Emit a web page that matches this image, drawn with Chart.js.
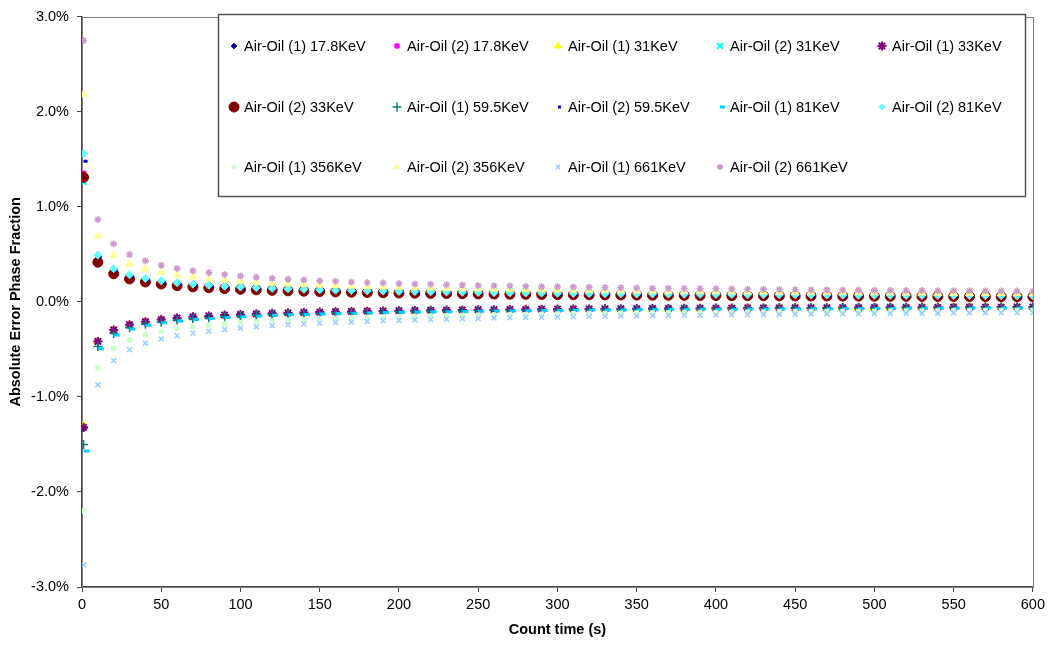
<!DOCTYPE html>
<html>
<head>
<meta charset="utf-8">
<script src="https://cdn.jsdelivr.net/npm/chart.js@4.4.0/dist/chart.umd.min.js"></script>
<style>
html,body{margin:0;padding:0;background:#fff;}
#wrap{width:1049px;height:648px;}
</style>
</head>
<body>
<div id="wrap"><canvas id="errChart" width="1049" height="648"></canvas></div>
<script>
// count times (s)
const countTimes = [1,10,20,30,40,50,60,70,80,90,100,110,120,130,140,150,160,170,180,190,200,
  210,220,230,240,250,260,270,280,290,300,310,320,330,340,350,360,370,380,390,400,
  410,420,430,440,450,460,470,480,490,500,510,520,530,540,550,560,570,580,590,600];

// absolute error phase fraction, in %
const oil1_178 = [-1.33,-0.417,-0.295,-0.241,-0.209,-0.187,-0.170,-0.158,-0.148,-0.139,-0.132,-0.126,-0.121,-0.116,-0.112,-0.108,-0.104,-0.101,-0.098,-0.096,-0.093,-0.091,-0.089,-0.087,-0.085,-0.083,-0.082,-0.080,-0.079,-0.078,-0.076,-0.075,-0.074,-0.073,-0.072,-0.071,-0.070,-0.069,-0.068,-0.067,-0.066,-0.065,-0.064,-0.064,-0.063,-0.062,-0.062,-0.061,-0.060,-0.060,-0.059,-0.058,-0.058,-0.057,-0.057,-0.056,-0.056,-0.055,-0.055,-0.054,-0.054];
const oil2_178 = [1.35,0.417,0.295,0.241,0.209,0.187,0.170,0.158,0.148,0.139,0.132,0.126,0.121,0.116,0.112,0.108,0.104,0.101,0.098,0.096,0.093,0.091,0.089,0.087,0.085,0.083,0.082,0.080,0.079,0.078,0.076,0.075,0.074,0.073,0.072,0.071,0.070,0.069,0.068,0.067,0.066,0.065,0.064,0.064,0.063,0.062,0.062,0.061,0.060,0.060,0.059,0.058,0.058,0.057,0.057,0.056,0.056,0.055,0.055,0.054,0.054];
const oil1_31 = [-1.30,-0.417,-0.295,-0.241,-0.209,-0.187,-0.170,-0.158,-0.148,-0.139,-0.132,-0.126,-0.121,-0.116,-0.112,-0.108,-0.104,-0.101,-0.098,-0.096,-0.093,-0.091,-0.089,-0.087,-0.085,-0.083,-0.082,-0.080,-0.079,-0.078,-0.076,-0.075,-0.074,-0.073,-0.072,-0.071,-0.070,-0.069,-0.068,-0.067,-0.066,-0.065,-0.064,-0.064,-0.063,-0.062,-0.062,-0.061,-0.060,-0.060,-0.059,-0.058,-0.058,-0.057,-0.057,-0.056,-0.056,-0.055,-0.055,-0.054,-0.054];
const oil2_31 = [1.26,0.417,0.295,0.241,0.209,0.187,0.170,0.158,0.148,0.139,0.132,0.126,0.121,0.116,0.112,0.108,0.104,0.101,0.098,0.096,0.093,0.091,0.089,0.087,0.085,0.083,0.082,0.080,0.079,0.078,0.076,0.075,0.074,0.073,0.072,0.071,0.070,0.069,0.068,0.067,0.066,0.065,0.064,0.064,0.063,0.062,0.062,0.061,0.060,0.060,0.059,0.058,0.058,0.057,0.057,0.056,0.056,0.055,0.055,0.054,0.054];
const oil1_33 = [-1.32,-0.417,-0.295,-0.241,-0.209,-0.187,-0.170,-0.158,-0.148,-0.139,-0.132,-0.126,-0.121,-0.116,-0.112,-0.108,-0.104,-0.101,-0.098,-0.096,-0.093,-0.091,-0.089,-0.087,-0.085,-0.083,-0.082,-0.080,-0.079,-0.078,-0.076,-0.075,-0.074,-0.073,-0.072,-0.071,-0.070,-0.069,-0.068,-0.067,-0.066,-0.065,-0.064,-0.064,-0.063,-0.062,-0.062,-0.061,-0.060,-0.060,-0.059,-0.058,-0.058,-0.057,-0.057,-0.056,-0.056,-0.055,-0.055,-0.054,-0.054];
const oil2_33 = [1.31,0.417,0.295,0.241,0.209,0.187,0.170,0.158,0.148,0.139,0.132,0.126,0.121,0.116,0.112,0.108,0.104,0.101,0.098,0.096,0.093,0.091,0.089,0.087,0.085,0.083,0.082,0.080,0.079,0.078,0.076,0.075,0.074,0.073,0.072,0.071,0.070,0.069,0.068,0.067,0.066,0.065,0.064,0.064,0.063,0.062,0.062,0.061,0.060,0.060,0.059,0.058,0.058,0.057,0.057,0.056,0.056,0.055,0.055,0.054,0.054];
const oil1_595 = [-1.50,-0.471,-0.333,-0.272,-0.236,-0.211,-0.192,-0.178,-0.167,-0.157,-0.149,-0.142,-0.136,-0.131,-0.126,-0.122,-0.118,-0.114,-0.111,-0.108,-0.105,-0.103,-0.100,-0.098,-0.096,-0.094,-0.092,-0.091,-0.089,-0.087,-0.086,-0.085,-0.083,-0.082,-0.081,-0.080,-0.079,-0.077,-0.076,-0.075,-0.075,-0.074,-0.073,-0.072,-0.071,-0.070,-0.069,-0.069,-0.068,-0.067,-0.067,-0.066,-0.065,-0.065,-0.064,-0.064,-0.063,-0.062,-0.062,-0.061,-0.061];
const oil2_595 = [1.48,0.471,0.333,0.272,0.236,0.211,0.192,0.178,0.167,0.157,0.149,0.142,0.136,0.131,0.126,0.122,0.118,0.114,0.111,0.108,0.105,0.103,0.100,0.098,0.096,0.094,0.092,0.091,0.089,0.087,0.086,0.085,0.083,0.082,0.081,0.080,0.079,0.077,0.076,0.075,0.075,0.074,0.073,0.072,0.071,0.070,0.069,0.069,0.068,0.067,0.067,0.066,0.065,0.065,0.064,0.064,0.063,0.062,0.062,0.061,0.061];
const oil1_81 = [-1.57,-0.493,-0.349,-0.285,-0.247,-0.221,-0.201,-0.186,-0.174,-0.164,-0.156,-0.149,-0.142,-0.137,-0.132,-0.127,-0.123,-0.120,-0.116,-0.113,-0.110,-0.108,-0.105,-0.103,-0.101,-0.099,-0.097,-0.095,-0.093,-0.092,-0.090,-0.089,-0.087,-0.086,-0.085,-0.083,-0.082,-0.081,-0.080,-0.079,-0.078,-0.077,-0.076,-0.075,-0.074,-0.074,-0.073,-0.072,-0.071,-0.070,-0.070,-0.069,-0.068,-0.068,-0.067,-0.067,-0.066,-0.065,-0.065,-0.064,-0.064];
const oil2_81 = [1.56,0.493,0.349,0.285,0.247,0.221,0.201,0.186,0.174,0.164,0.156,0.149,0.142,0.137,0.132,0.127,0.123,0.120,0.116,0.113,0.110,0.108,0.105,0.103,0.101,0.099,0.097,0.095,0.093,0.092,0.090,0.089,0.087,0.086,0.085,0.083,0.082,0.081,0.080,0.079,0.078,0.077,0.076,0.075,0.074,0.074,0.073,0.072,0.071,0.070,0.070,0.069,0.068,0.068,0.067,0.067,0.066,0.065,0.065,0.064,0.064];
const oil1_356 = [-2.20,-0.693,-0.490,-0.400,-0.346,-0.310,-0.283,-0.262,-0.245,-0.231,-0.219,-0.209,-0.200,-0.192,-0.185,-0.179,-0.173,-0.168,-0.163,-0.159,-0.155,-0.151,-0.148,-0.144,-0.141,-0.139,-0.136,-0.133,-0.131,-0.129,-0.126,-0.124,-0.122,-0.121,-0.119,-0.117,-0.115,-0.114,-0.112,-0.111,-0.110,-0.108,-0.107,-0.106,-0.104,-0.103,-0.102,-0.101,-0.100,-0.099,-0.098,-0.097,-0.096,-0.095,-0.094,-0.093,-0.093,-0.092,-0.091,-0.090,-0.089];
const oil2_356 = [2.18,0.693,0.490,0.400,0.346,0.310,0.283,0.262,0.245,0.231,0.219,0.209,0.200,0.192,0.185,0.179,0.173,0.168,0.163,0.159,0.155,0.151,0.148,0.144,0.141,0.139,0.136,0.133,0.131,0.129,0.126,0.124,0.122,0.121,0.119,0.117,0.115,0.114,0.112,0.111,0.110,0.108,0.107,0.106,0.104,0.103,0.102,0.101,0.100,0.099,0.098,0.097,0.096,0.095,0.094,0.093,0.093,0.092,0.091,0.090,0.089];
const oil1_661 = [-2.77,-0.873,-0.617,-0.504,-0.436,-0.390,-0.356,-0.330,-0.309,-0.291,-0.276,-0.263,-0.252,-0.242,-0.233,-0.225,-0.218,-0.212,-0.206,-0.200,-0.195,-0.190,-0.186,-0.182,-0.178,-0.175,-0.171,-0.168,-0.165,-0.162,-0.159,-0.157,-0.154,-0.152,-0.150,-0.148,-0.145,-0.143,-0.142,-0.140,-0.138,-0.136,-0.135,-0.133,-0.132,-0.130,-0.129,-0.127,-0.126,-0.125,-0.123,-0.122,-0.121,-0.120,-0.119,-0.118,-0.117,-0.116,-0.115,-0.114,-0.113];
const oil2_661 = [2.75,0.867,0.610,0.498,0.432,0.386,0.352,0.327,0.306,0.288,0.273,0.260,0.249,0.239,0.231,0.223,0.216,0.210,0.204,0.198,0.193,0.188,0.184,0.180,0.176,0.173,0.169,0.166,0.163,0.160,0.158,0.155,0.153,0.151,0.148,0.146,0.144,0.142,0.140,0.138,0.137,0.135,0.133,0.132,0.130,0.129,0.127,0.126,0.125,0.124,0.122,0.121,0.120,0.119,0.118,0.117,0.116,0.115,0.114,0.113,0.112];

const seriesNames = ["Air-Oil (1) 17.8KeV","Air-Oil (2) 17.8KeV","Air-Oil (1) 31KeV","Air-Oil (2) 31KeV","Air-Oil (1) 33KeV",
  "Air-Oil (2) 33KeV","Air-Oil (1) 59.5KeV","Air-Oil (2) 59.5KeV","Air-Oil (1) 81KeV","Air-Oil (2) 81KeV",
  "Air-Oil (1) 356KeV","Air-Oil (2) 356KeV","Air-Oil (1) 661KeV","Air-Oil (2) 661KeV"];
const seriesValues = [oil1_178,oil2_178,oil1_31,oil2_31,oil1_33,oil2_33,oil1_595,oil2_595,oil1_81,oil2_81,oil1_356,oil2_356,oil1_661,oil2_661];

const xTicks = [0,50,100,150,200,250,300,350,400,450,500,550,600];
const yTicks = [-3,-2,-1,0,1,2,3];
const yTickLabels = ["-3.0%","-2.0%","-1.0%","0.0%","1.0%","2.0%","3.0%"];

// marker looks (plot radius, legend radius)
const markers = [
  {color:"#000080", style:"rectRot",  r:3.5, lr:2.8, bw:1},
  {color:"#FF00FF", style:"rect",     r:3.5, lr:3,   bw:1},
  {color:"#FFFF00", style:"triangle", r:4.5, lr:4,   bw:1},
  {color:"#00FFFF", style:"crossRot", r:4,   lr:4,   bw:2},
  {color:"#800080", style:"star",     r:4.5, lr:4.5, bw:2},
  {color:"#800000", style:"circle",   r:5,   lr:5,   bw:1},
  {color:"#008080", style:"cross",    r:4.5, lr:4.5, bw:1.5},
  {color:"#0000FF", style:"dash",     r:4,   lr:3,   bw:3},
  {color:"#00CCFF", style:"dash",     r:6,   lr:5,   bw:3},
  {color:"#66FFFF", style:"rectRot",  r:4,   lr:3,   bw:1},
  {color:"#CCFFCC", style:"rect",     r:3,   lr:2.5, bw:1},
  {color:"#FFFF99", style:"triangle", r:4.5, lr:3.5, bw:1},
  {color:"#99CCFF", style:"crossRot", r:3.5, lr:3,   bw:1.5},
  {color:"#CC99CC", style:"star",     r:3.5, lr:3,   bw:1.5}
];

const datasets = seriesNames.map((name,i)=>({
  label:name,
  data:countTimes.map((t,j)=>({x:t,y:seriesValues[i][j]})),
  showLine:false,
  pointStyle:markers[i].style,
  pointRadius:markers[i].r,
  pointHoverRadius:markers[i].r,
  pointBorderWidth:markers[i].bw,
  pointBackgroundColor:markers[i].color,
  pointBorderColor:markers[i].color,
  order:13-i
}));

const legendCols = [234,397,558,720,882];
const legendRows = [46,107,167];

const boxPlugin = {
  id:"boxAndLegend",
  beforeDatasetsDraw(chart){
    const a = chart.chartArea;
    const c = chart.ctx;
    c.save();
    c.strokeStyle = "#808080";
    c.lineWidth = 1;
    c.strokeRect(Math.round(a.left)+0.5, Math.round(a.top)+0.5, Math.round(a.right-a.left), Math.round(a.bottom-a.top));
    c.restore();
  },
  afterDatasetsDraw(chart){
    const c = chart.ctx;
    c.save();
    c.fillStyle = "#fff";
    c.fillRect(218,14,808,183);
    c.strokeStyle = "#555";
    c.lineWidth = 1.5;
    c.strokeRect(218.5,14.5,807,182);
    c.font = "14.5px Arial, 'Liberation Sans', sans-serif";
    c.textBaseline = "middle";
    c.textAlign = "left";
    seriesNames.forEach((name,i)=>{
      const x = legendCols[i%5], y = legendRows[Math.floor(i/5)];
      const m = markers[i];
      c.fillStyle = m.color;
      c.strokeStyle = m.color;
      c.lineWidth = m.bw;
      Chart.helpers.drawPoint(c,{pointStyle:m.style,radius:m.lr,rotation:0,borderWidth:m.bw},x,y);
      c.fillStyle = "#000";
      c.fillText(name,x+10,y+1);
    });
    c.restore();
  }
};

new Chart(document.getElementById("errChart"),{
  type:"scatter",
  data:{datasets:datasets},
  plugins:[boxPlugin],
  options:{
    responsive:false,
    animation:false,
    layout:{padding:{left:0,right:14,top:13,bottom:0}},
    plugins:{legend:{display:false},tooltip:{enabled:false}},
    scales:{
      x:{
        type:"linear",min:0,max:600,
        afterBuildTicks:s=>{s.ticks=xTicks.map(v=>({value:v}));},
        afterFit:s=>{s.height=61;},
        grid:{drawOnChartArea:false,tickLength:5,color:"#444"},
        border:{color:"#444",width:1.5},
        ticks:{color:"#000",padding:4,maxRotation:0,font:{family:"Arial, 'Liberation Sans', sans-serif",size:14.5}},
        title:{display:true,text:"Count time (s)",color:"#000",padding:{top:2,bottom:9},
          font:{family:"Arial, 'Liberation Sans', sans-serif",size:14.5,weight:"bold"}}
      },
      y:{
        type:"linear",min:-3,max:3,
        afterBuildTicks:s=>{s.ticks=yTicks.map(v=>({value:v}));},
        afterFit:s=>{s.width=82;},
        grid:{drawOnChartArea:false,tickLength:5,color:"#444"},
        border:{color:"#444",width:1.5},
        ticks:{color:"#000",padding:8,font:{family:"Arial, 'Liberation Sans', sans-serif",size:14.5},
          callback:(v,i)=>yTickLabels[i]},
        title:{display:true,text:"Absolute Error Phase Fraction",color:"#000",padding:{top:7,bottom:0},
          font:{family:"Arial, 'Liberation Sans', sans-serif",size:14.5,weight:"bold"}}
      }
    }
  }
});
</script>
</body>
</html>
